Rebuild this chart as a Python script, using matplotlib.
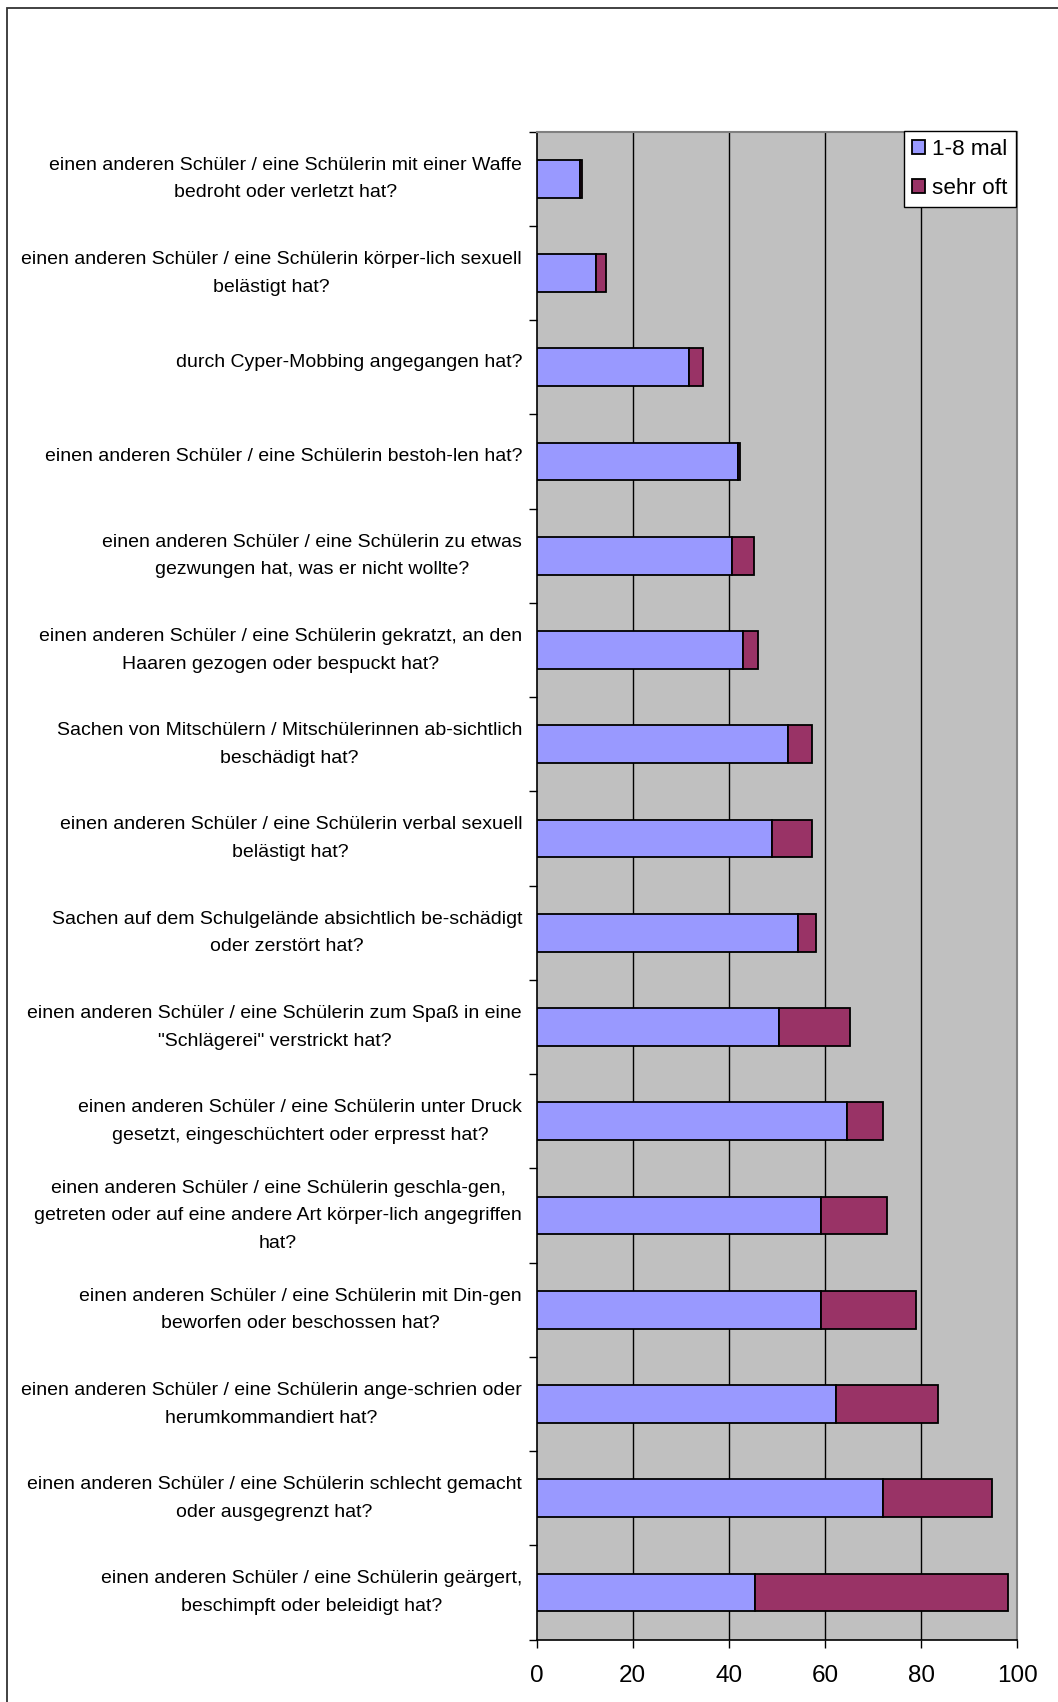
import matplotlib
matplotlib.use("Agg")
import matplotlib.pyplot as plt
import matplotlib.transforms as mtransforms
from matplotlib.patches import Rectangle
import numpy as np

plt.rcParams['font.family'] = ['Liberation Sans', 'DejaVu Sans']

categories = [
    "einen anderen Schüler / eine Schülerin mit einer Waffe\nbedroht oder verletzt hat?",
    "einen anderen Schüler / eine Schülerin körper-lich sexuell\nbelästigt hat?",
    "durch Cyper-Mobbing angegangen hat?",
    "einen anderen Schüler / eine Schülerin bestoh-len hat?",
    "einen anderen Schüler / eine Schülerin zu etwas\ngezwungen hat, was er nicht wollte?",
    "einen anderen Schüler / eine Schülerin gekratzt, an den\nHaaren gezogen oder bespuckt hat?",
    "Sachen von Mitschülern / Mitschülerinnen ab-sichtlich\nbeschädigt hat?",
    "einen anderen Schüler / eine Schülerin verbal sexuell\nbelästigt hat?",
    "Sachen auf dem Schulgelände absichtlich be-schädigt\noder zerstört hat?",
    "einen anderen Schüler / eine Schülerin zum Spaß in eine\n\"Schlägerei\" verstrickt hat?",
    "einen anderen Schüler / eine Schülerin unter Druck\ngesetzt, eingeschüchtert oder erpresst hat?",
    "einen anderen Schüler / eine Schülerin geschla-gen,\ngetreten oder auf eine andere Art körper-lich angegriffen\nhat?",
    "einen anderen Schüler / eine Schülerin mit Din-gen\nbeworfen oder beschossen hat?",
    "einen anderen Schüler / eine Schülerin ange-schrien oder\nherumkommandiert hat?",
    "einen anderen Schüler / eine Schülerin schlecht gemacht\noder ausgegrenzt hat?",
    "einen anderen Schüler / eine Schülerin geärgert,\nbeschimpft oder beleidigt hat?",
]
mal_1_8 = [9.0, 12.4, 31.7, 41.9, 40.7, 42.9, 52.4, 49.0, 54.4, 50.5, 64.5, 59.2, 59.2, 62.2, 72.0, 45.5]
sehr_oft = [0.4, 2.0, 3.0, 0.4, 4.6, 3.2, 5.0, 8.4, 3.7, 14.8, 7.6, 13.7, 19.8, 21.3, 22.8, 52.6]
series_names = ["1-8 mal", "sehr oft"]
xticks = [0, 20, 40, 60, 80, 100]

W, H = 1058, 1702
fig = plt.figure(figsize=(W / 100, H / 100), dpi=100)
fig.patch.set_facecolor('white')

# outer chart border
fig.patches.append(Rectangle((6.5 / W, -0.1), 1.2, 1 - 8 / H + 0.1, transform=fig.transFigure,
                             fill=False, edgecolor='#333333', linewidth=1.3, clip_on=False))

left, right = 536.6 / W, 1017.2 / W
top, bottom = 1 - 131.7 / H, 1 - 1639.5 / H
ax = fig.add_axes([left, bottom, right - left, top - bottom])
ax.set_facecolor('#C0C0C0')

n = len(categories)
y = np.arange(n)
h = 0.40
ax.barh(y, mal_1_8, height=h, color='#9999FF', edgecolor='black', linewidth=1.3,
        label=series_names[0], zorder=3)
ax.barh(y, sehr_oft, left=mal_1_8, height=h, color='#993366', edgecolor='black',
        linewidth=1.3, label=series_names[1], zorder=3)

ax.set_xlim(0, 100)
ax.set_ylim(n - 0.5, -0.5)

ax.set_xticks(xticks)
ax.set_xticklabels([str(v) for v in xticks], fontsize=17.5)
ax.tick_params(axis='x', direction='out', length=6, width=1, color='black', pad=12)

ax.set_yticks(y)
ax.set_yticklabels(categories, fontsize=14.0, linespacing=1.82, multialignment='center')
ax.tick_params(axis='y', which='major', length=0, pad=10.5)
ax.set_yticks(np.arange(n + 1) - 0.5, minor=True)
ax.tick_params(axis='y', which='minor', direction='out', length=6, width=1, color='black')

shift = mtransforms.ScaledTranslation(0, 7 / 100, fig.dpi_scale_trans)
for lbl in ax.get_yticklabels():
    lbl.set_transform(lbl.get_transform() + shift)

for v in xticks[1:-1]:
    ax.axvline(v, color='black', linewidth=1.0, zorder=1)

for s in ['left', 'bottom']:
    ax.spines[s].set_color('black')
    ax.spines[s].set_linewidth(1.2)
for s in ['top', 'right']:
    ax.spines[s].set_color('#808080')
    ax.spines[s].set_linewidth(1.5)

leg = ax.legend(loc='upper right', bbox_to_anchor=(1015.7 / W, 1 - 131 / H),
                bbox_transform=fig.transFigure, borderaxespad=0, fontsize=16.2,
                frameon=True, fancybox=False, edgecolor='black', framealpha=1,
                handlelength=0.55, handleheight=0.55, handletextpad=0.35,
                labelspacing=0.8, borderpad=0.35)
leg.get_frame().set_linewidth(1.0)

fig.savefig('out.png', dpi=100, facecolor='white')
